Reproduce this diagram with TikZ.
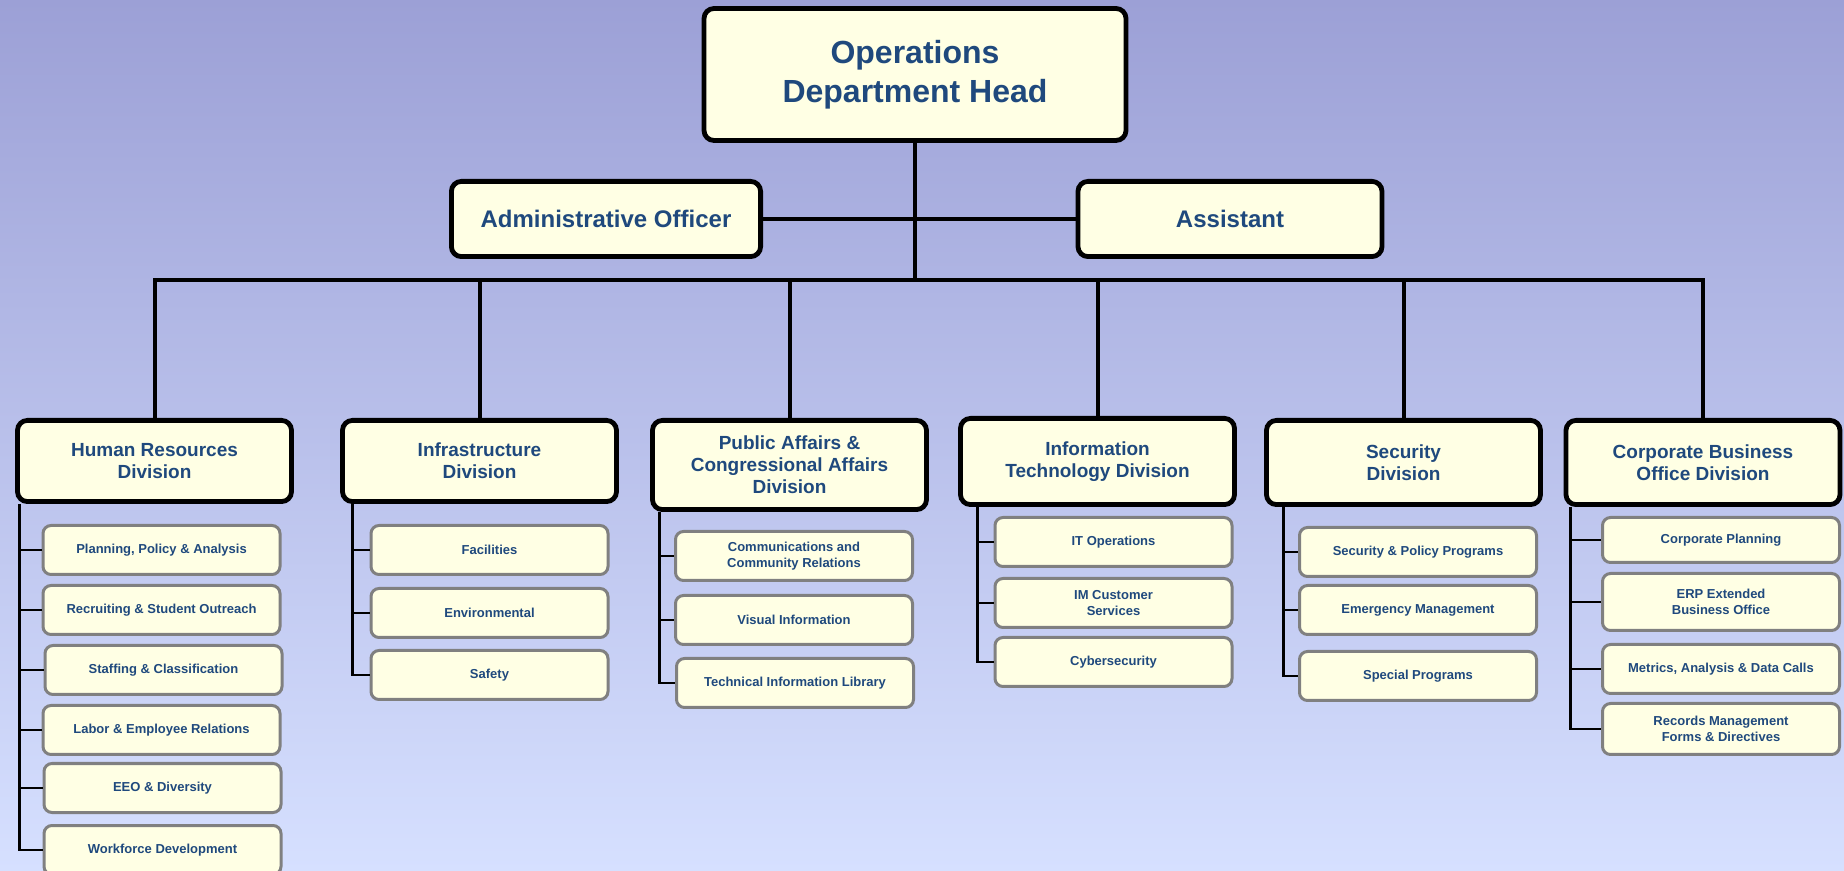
\documentclass[tikz,border=0pt]{standalone}
\usepackage{fontspec}
\setmainfont{Liberation Sans}
\definecolor{boxfill}{RGB}{255,255,228}
\definecolor{txtblue}{RGB}{31,73,125}
\definecolor{subline}{RGB}{128,128,128}
\definecolor{bgtop}{RGB}{156,160,214}
\definecolor{bgbot}{RGB}{214,224,255}

\begin{document}
\begin{tikzpicture}[x=0.5pt, y=-0.5pt,
    topbox/.style={draw=black, line width=2.4pt, fill=boxfill, rounded corners=5pt,
      align=center, text=txtblue, inner sep=0pt},
    headbox/.style={topbox, minimum width=211pt, minimum height=66pt,
      font=\fontsize{16}{19.5}\selectfont\bfseries},
    staffbox/.style={topbox, minimum height=37.6pt,
      font=\fontsize{12}{14}\selectfont\bfseries},
    divbox/.style={topbox, anchor=north, minimum width=137pt,
      font=\fontsize{9.5}{11}\selectfont\bfseries},
    subbox/.style={draw=subline, line width=1.5pt, fill=boxfill, rounded corners=4pt,
      align=center, text=txtblue, inner sep=0pt, minimum width=118.5pt,
      minimum height=24.5pt, font=\fontsize{6.5}{8.2}\selectfont\bfseries},
    conn/.style={draw=black, line width=2pt},
    bar/.style={draw=black, line width=1.4pt}]

  \useasboundingbox (0,0) rectangle (1844,871);
  \clip (0,0) rectangle (1844,871);
  \shade [top color=bgtop, bottom color=bgbot] (0,0) rectangle (1844,871);

  % head and staff
  \node [headbox] (head) at (915,74.5) {Operations\\Department Head};
  \node [staffbox, minimum width=154.6pt] (admin) at (606,219) {Administrative Officer};
  \node [staffbox, minimum width=152pt] (assist) at (1230,219) {Assistant};
  \coordinate (bus) at (915,280);

  % divisions
  \node [divbox, minimum height=40.6pt] (hr) at (154.5,418) {Human Resources\\Division};
  \node [divbox, minimum height=40.6pt] (inf) at (479.5,418) {Infrastructure\\Division};
  \node [divbox, minimum height=44.6pt] (pa) at (789.5,418) {Public Affairs \&\\Congressional Affairs\\Division};
  \node [divbox, minimum height=43.1pt] (it) at (1097.5,416) {Information\\Technology Division};
  \node [divbox, minimum height=42.1pt] (sec) at (1403.5,418) {Security\\Division};
  \node [divbox, minimum height=42.1pt] (cb) at (1703,418) {Corporate Business\\Office Division};

  % human resources
  \node [subbox] (hr1) at (161.5,550) {Planning, Policy \& Analysis};
  \node [subbox] (hr2) at (161.5,610) {Recruiting \& Student Outreach};
  \node [subbox] (hr3) at (163.5,670) {Staffing \& Classification};
  \node [subbox] (hr4) at (161.5,730) {Labor \& Employee Relations};
  \node [subbox] (hr5) at (162.5,788) {EEO \& Diversity};
  \node [subbox] (hr6) at (162.5,850) {Workforce Development};

  % infrastructure
  \node [subbox] (inf1) at (489.5,550) {Facilities};
  \node [subbox] (inf2) at (489.5,613) {Environmental};
  \node [subbox] (inf3) at (489.5,675) {Safety};

  % public affairs
  \node [subbox] (pa1) at (794,556) {Communications and\\Community Relations};
  \node [subbox] (pa2) at (794,620) {Visual Information};
  \node [subbox] (pa3) at (795,683) {Technical Information Library};

  % information technology
  \node [subbox] (it1) at (1113.5,542) {IT Operations};
  \node [subbox] (it2) at (1113.5,603) {IM Customer\\Services};
  \node [subbox] (it3) at (1113.5,662) {Cybersecurity};

  % security
  \node [subbox] (sec1) at (1418,552) {Security \& Policy Programs};
  \node [subbox] (sec2) at (1418,610) {Emergency Management};
  \node [subbox] (sec3) at (1418,676) {Special Programs};

  % corporate business office
  \node [subbox, minimum height=22.5pt] (cb1) at (1721,540) {Corporate Planning};
  \node [subbox, minimum height=28.5pt] (cb2) at (1721,602) {ERP Extended\\Business Office};
  \node [subbox] (cb3) at (1721,669) {Metrics, Analysis \& Data Calls};
  \node [subbox, minimum height=25.5pt] (cb4) at (1721,729) {Records Management\\Forms \& Directives};

  % upper connectors
  \draw [conn] (head.south) -- (bus);
  \draw [conn] (admin.east) -- (assist.west);
  \draw [conn] (hr.north) |- (bus) -| (cb.north);
  \draw [conn] (inf.north) -- (inf.north |- bus);
  \draw [conn] (pa.north) -- (pa.north |- bus);
  \draw [conn] (it.north) -- (it.north |- bus);
  \draw [conn] (sec.north) -- (sec.north |- bus);

  % brackets
  \draw [bar] (hr.south west) ++(4,0) coordinate (hrb) |- (hr6.west);
  \draw [bar] (hrb |- hr1.west) -- (hr1.west);
  \draw [bar] (hrb |- hr2.west) -- (hr2.west);
  \draw [bar] (hrb |- hr3.west) -- (hr3.west);
  \draw [bar] (hrb |- hr4.west) -- (hr4.west);
  \draw [bar] (hrb |- hr5.west) -- (hr5.west);

  \draw [bar] (inf.south west) ++(12,0) coordinate (infb) |- (inf3.west);
  \draw [bar] (infb |- inf1.west) -- (inf1.west);
  \draw [bar] (infb |- inf2.west) -- (inf2.west);

  \draw [bar] (pa.south west) ++(9,0) coordinate (pab) |- (pa3.west);
  \draw [bar] (pab |- pa1.west) -- (pa1.west);
  \draw [bar] (pab |- pa2.west) -- (pa2.west);

  \draw [bar] (it.south west) ++(19,0) coordinate (itb) |- (it3.west);
  \draw [bar] (itb |- it1.west) -- (it1.west);
  \draw [bar] (itb |- it2.west) -- (it2.west);

  \draw [bar] (sec.south west) ++(19,0) coordinate (secb) |- (sec3.west);
  \draw [bar] (secb |- sec1.west) -- (sec1.west);
  \draw [bar] (secb |- sec2.west) -- (sec2.west);

  \draw [bar] (cb.south west) ++(7,0) coordinate (cbb) |- (cb4.west);
  \draw [bar] (cbb |- cb1.west) -- (cb1.west);
  \draw [bar] (cbb |- cb2.west) -- (cb2.west);
  \draw [bar] (cbb |- cb3.west) -- (cb3.west);
\end{tikzpicture}
\end{document}
